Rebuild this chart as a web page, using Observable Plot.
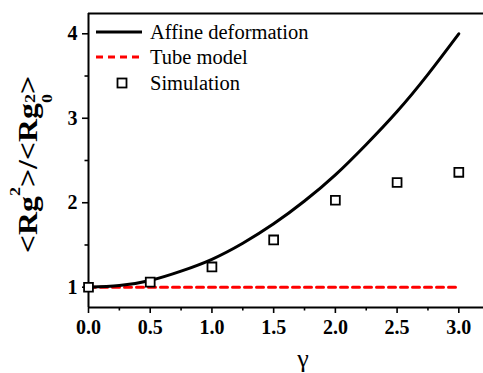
<!DOCTYPE html>
<html><head><meta charset="utf-8">
<script src="https://cdn.jsdelivr.net/npm/d3@7"></script>
<script src="https://cdn.jsdelivr.net/npm/@observablehq/plot@0.6"></script>
<style>
body{margin:0;background:#fff}
#chart svg text{font-family:"Liberation Serif","Times New Roman",serif !important;}
</style>
</head><body><div id="chart"></div>
<script>
// Affine deformation curve
const affineGamma = [0, 0.25, 0.5, 0.75, 1.0, 1.25, 1.5, 1.75, 2.0, 2.25, 2.5, 2.75, 3.0];
const affineValues = [1.0, 1.02, 1.08, 1.19, 1.33, 1.52, 1.75, 2.02, 2.33, 2.69, 3.08, 3.52, 4.0];
// Tube model
const tubeGamma = [0, 3.0];
const tubeValues = [1.0, 1.0];
// Simulation
const simGamma = [0, 0.5, 1.0, 1.5, 2.0, 2.5, 3.0];
const simValues = [1.0, 1.06, 1.24, 1.56, 2.03, 2.24, 2.36];
// Ticks
const xMajor = [0, 0.5, 1.0, 1.5, 2.0, 2.5, 3.0];
const xMinor = [0.25, 0.75, 1.25, 1.75, 2.25, 2.75];
const yMajor = [1, 2, 3, 4];
const yMinor = [1.5, 2.5, 3.5];
const xDomain = [0, 3.2];
const yDomain = [0.76, 4.24];
const legendLabels = ["Affine deformation", "Tube model", "Simulation"];

const affine = affineGamma.map((g, i) => ({g, v: affineValues[i]}));
const tube = tubeGamma.map((g, i) => ({g, v: tubeValues[i]}));
const sim = simGamma.map((g, i) => ({g, v: simValues[i]}));

const serif = "Liberation Serif";

const plot = Plot.plot({
  width: 483,
  height: 373,
  marginLeft: 88,
  marginRight: 0,
  marginTop: 13,
  marginBottom: 66,
  style: {fontFamily: serif, background: "#fff", overflow: "visible"},
  x: {domain: xDomain},
  y: {domain: yDomain},
  marks: [
    Plot.axisX({ticks: xMajor, tickFormat: d => d.toFixed(1), tickSize: 6, tickPadding: 6, fontSize: 20, fontWeight: "bold", strokeWidth: 1.6, label: null}),
    Plot.axisX({ticks: xMinor, tickFormat: () => "", tickSize: 3.5, strokeWidth: 1.6, label: null}),
    Plot.axisY({ticks: yMajor, tickFormat: d => String(d), tickSize: 6, tickPadding: 5, fontSize: 20, fontWeight: "bold", strokeWidth: 1.6, label: null}),
    Plot.axisY({ticks: yMinor, tickFormat: () => "", tickSize: 3.5, strokeWidth: 1.6, label: null}),
    Plot.ruleY([yDomain[1]], {stroke: "black", strokeWidth: 2}),
    Plot.ruleY([yDomain[0]], {stroke: "black", strokeWidth: 2}),
    Plot.ruleX([xDomain[0]], {stroke: "black", strokeWidth: 2}),
    Plot.line(tube, {x: "g", y: "v", stroke: "#ff0000", strokeWidth: 3, strokeDasharray: "7,5"}),
    Plot.line(affine, {x: "g", y: "v", stroke: "black", strokeWidth: 3, curve: "natural"}),
    Plot.dot(sim, {x: "g", y: "v", symbol: "square", r: 5, fill: "white", stroke: "black", strokeWidth: 1.8})
  ]
});

const svg = d3.select(plot);
// y label
const yl = svg.append("text")
  .attr("transform", "translate(37,253) rotate(-90) scale(1.2,1)")
  .attr("text-anchor", "start")
  .attr("font-weight", "bold").attr("font-size", 26.5).attr("fill", "black");
yl.append("tspan").text("<Rg");
yl.append("tspan").attr("dy", -17).attr("font-size", 15).text("2");
yl.append("tspan").attr("dy", 17).text(">/<Rg");
yl.append("tspan").attr("dy", -2).attr("font-size", 15).text("2");
yl.append("tspan").attr("dx", -7.5).attr("dy", 17).attr("font-size", 15).text("0");
yl.append("tspan").attr("dy", -15).text(">");

// x label
svg.append("text").attr("x", 303).attr("y", 367).attr("text-anchor", "middle")
  .attr("font-size", 26).attr("fill", "black").text("γ");

// legend
const lg = svg.append("g").attr("text-anchor", "start");
lg.append("line").attr("x1", 96).attr("x2", 142).attr("y1", 32).attr("y2", 32).attr("stroke", "black").attr("stroke-width", 3);
lg.append("line").attr("x1", 96).attr("x2", 140).attr("y1", 57).attr("y2", 57).attr("stroke", "#ff0000").attr("stroke-width", 3).attr("stroke-dasharray", "7,5");
lg.append("rect").attr("x", 117.5).attr("y", 78.5).attr("width", 9).attr("height", 9).attr("fill", "white").attr("stroke", "black").attr("stroke-width", 1.8);
const ys = [39, 64, 90];
legendLabels.forEach((t, i) => {
  lg.append("text").attr("x", 150).attr("y", ys[i]).attr("font-size", 20.5).attr("fill", "black").text(t);
});

document.getElementById("chart").appendChild(plot);
</script>
</body></html>
